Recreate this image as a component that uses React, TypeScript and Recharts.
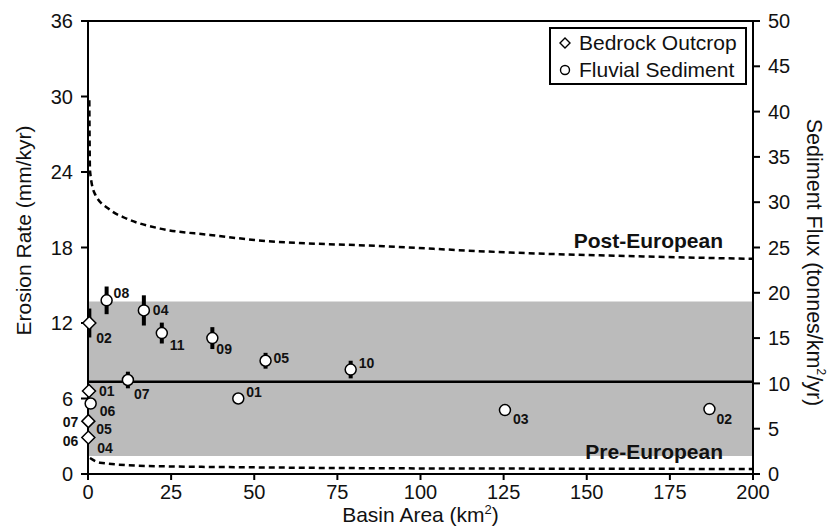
import React from 'react';
import {
  ComposedChart, Scatter, Line, XAxis, YAxis, ReferenceArea, ReferenceLine,
  ReferenceDot, ErrorBar, Legend, Label,
} from 'recharts';

const FONT = "'Liberation Sans', Arial, Helvetica, sans-serif";

// bedrock outcrops (all sit at ~0 km2)
const bedrockIds = ['02', '01', '05', '04'];
const bedrockPairIds = ['', '', '07', '06'];
const bedrockArea = [0.4, 0.3, 0.1, 0.1];
const bedrockRate = [12.0, 6.6, 4.2, 2.9];
const bedrockErr = [1.15, 0, 0, 0];

// fluvial sediment samples
const fluvialIds = ['08', '04', '11', '09', '07', '05', '10', '01', '03', '02', '06'];
const fluvialArea = [5.6, 16.8, 22.2, 37.4, 12.0, 53.4, 79.0, 45.2, 125.4, 186.9, 0.8];
const fluvialRate = [13.8, 13.0, 11.2, 10.8, 7.47, 9.0, 8.3, 6.0, 5.08, 5.16, 5.6];
const fluvialErr = [1.1, 1.2, 0.83, 0.87, 0.66, 0.63, 0.7, 0, 0, 0, 0];

// modelled curves
const postEuroArea = [0.4, 0.6, 2, 6.6, 11.6, 21.7, 36.7, 50, 89, 127, 165, 200];
const postEuroRate = [29.7, 24.1, 22.3, 21.0, 20.3, 19.5, 19.0, 18.6, 18.1, 17.6, 17.3, 17.1];
const preEuroArea = [0.6, 3.6, 17.6, 50, 94, 150, 200];
const preEuroRate = [1.27, 0.9, 0.64, 0.53, 0.45, 0.42, 0.4];

const meanRate = 7.33;
const bandLow = 1.43;
const bandHigh = 13.7;

const xTicks = [0, 25, 50, 75, 100, 125, 150, 175, 200];
const rateTicks = [0, 6, 12, 18, 24, 30, 36];
const fluxTicks = [0, 5, 10, 15, 20, 25, 30, 35, 40, 45, 50];

// label nudges (px) from the marker centre
const fluvialNudge: Record<string, [number, number]> = {
  '08': [7, -2], '04': [9, 5], '11': [8, 17], '09': [4, 16], '07': [6, 19], '05': [8, 2],
  '10': [8, -2], '01': [8, -2], '03': [8, 14], '02': [7, 15], '06': [9, 12],
};
const bedrockNudge: Record<string, [number, number]> = {
  '02': [7, 20], '01': [10, 5], '05': [8, 13], '04': [9, 15],
};
const pairNudge: Record<string, [number, number]> = { '07': [-10, 6], '06': [-10, 8] };

const bedrockData = bedrockIds.map((id, i) => ({
  id, pair: bedrockPairIds[i], x: bedrockArea[i], y: bedrockRate[i], err: bedrockErr[i],
}));
const fluvialData = fluvialIds.map((id, i) => ({
  id, x: fluvialArea[i], y: fluvialRate[i], err: fluvialErr[i],
}));
const postEuroData = postEuroArea.map((x, i) => ({ x, y: postEuroRate[i] }));
const preEuroData = preEuroArea.map((x, i) => ({ x, y: preEuroRate[i] }));

const labelStyle = { fontSize: 14, fontWeight: 700, fill: '#111', fontFamily: FONT };
const axisStyle = { stroke: '#000', strokeWidth: 2 };
const tickStyle = { fill: '#111', fontSize: 20, fontFamily: FONT };

const FluvialMark = (props: any) => {
  const { cx, cy, payload } = props;
  const [dx, dy] = fluvialNudge[payload.id] ?? [8, 5];
  return (
    <g>
      <circle cx={cx} cy={cy} r={5.5} fill="#fff" stroke="#000" strokeWidth={1.5} />
      <text x={cx + dx} y={cy + dy} {...labelStyle}>{payload.id}</text>
    </g>
  );
};

const BedrockMark = (props: any) => {
  const { cx, cy, payload } = props;
  const s = 6.5;
  const [dx, dy] = bedrockNudge[payload.id] ?? [8, 5];
  const pn = pairNudge[payload.pair];
  return (
    <g>
      <path d={`M${cx} ${cy - s}L${cx + s} ${cy}L${cx} ${cy + s}L${cx - s} ${cy}Z`}
        fill="#fff" stroke="#000" strokeWidth={1.5} />
      <text x={cx + dx} y={cy + dy} {...labelStyle}>{payload.id}</text>
      {pn && <text x={cx + pn[0]} y={cy + pn[1]} textAnchor="end" {...labelStyle}>{payload.pair}</text>}
    </g>
  );
};

const EndLabel = (text: string) => (props: any) => (
  <text x={props.cx} y={props.cy} textAnchor="end" fontSize={21} fontWeight={700}
    fontFamily={FONT} fill="#111">{text}</text>
);

const LegendBox = () => (
  <div style={{
    border: '2px solid #000', background: '#fff', padding: '0 6px 0 8px', width: 198, height: 58,
    boxSizing: 'border-box', fontFamily: FONT, fontSize: 21, lineHeight: '27px', color: '#111',
  }}>
    <div style={{ display: 'flex', alignItems: 'center' }}>
      <svg width={12} height={12}><path d="M6 1L11 6L6 11L1 6Z" fill="none" stroke="#000" strokeWidth={1.4} /></svg>
      <span style={{ marginLeft: 8 }}>Bedrock Outcrop</span>
    </div>
    <div style={{ display: 'flex', alignItems: 'center' }}>
      <svg width={12} height={12}><circle cx={6} cy={6} r={4.5} fill="none" stroke="#000" strokeWidth={1.4} /></svg>
      <span style={{ marginLeft: 8 }}>Fluvial Sediment</span>
    </div>
  </div>
);

export default function App() {
  return (
    <div>
      <style>{'body{margin:0}'}</style>
      <ComposedChart width={830} height={527} margin={{ top: 21, right: 0, bottom: 0, left: 0 }}>
        <ReferenceArea yAxisId="rate" x1={0} x2={200} y1={bandLow} y2={bandHigh}
          fill="#bbbbbb" fillOpacity={1} stroke="none" />
        <XAxis type="number" dataKey="x" domain={[0, 200]} ticks={xTicks} interval={0} height={53}
          axisLine={axisStyle} tickLine={axisStyle} tickSize={6} tickMargin={5} tick={tickStyle}>
          <Label content={({ viewBox }: any) => (
            <text x={viewBox.x + viewBox.width / 2} y={viewBox.y + 48} textAnchor="middle"
              fontSize={21} fontFamily={FONT} fill="#111">
              Basin Area (km<tspan dy={-8} fontSize={13}>2</tspan><tspan dy={8}>)</tspan>
            </text>
          )} />
        </XAxis>
        <YAxis yAxisId="rate" type="number" dataKey="y" domain={[0, 36]} ticks={rateTicks} interval={0}
          width={88} axisLine={axisStyle} tickLine={axisStyle} tickSize={7} tickMargin={8} tick={tickStyle}>
          <Label content={({ viewBox }: any) => {
            const x = viewBox.x + 23;
            const y = viewBox.y + viewBox.height / 2 - 17;
            return (
              <text x={x} y={y} transform={`rotate(-90, ${x}, ${y})`} textAnchor="middle"
                dominantBaseline="central" fontSize={21} fontFamily={FONT} fill="#111">
                Erosion Rate (mm/kyr)
              </text>
            );
          }} />
        </YAxis>
        <YAxis yAxisId="flux" orientation="right" type="number" domain={[0, 50]} ticks={fluxTicks}
          interval={0} allowDataOverflow width={77} axisLine={axisStyle} tickLine={axisStyle}
          tickSize={7} tickMargin={8} tick={tickStyle}>
          <Label content={({ viewBox }: any) => {
            const x = viewBox.x + 61;
            const y = viewBox.y + viewBox.height / 2 + 15;
            return (
              <text x={x} y={y} transform={`rotate(90, ${x}, ${y})`} textAnchor="middle"
                dominantBaseline="central" fontSize={21.5} fontFamily={FONT} fill="#111">
                Sediment Flux (tonnes/km<tspan dy={-7} fontSize={12}>2</tspan><tspan dy={7}>/yr)</tspan>
              </text>
            );
          }} />
        </YAxis>
        <ReferenceLine yAxisId="rate" y={meanRate} stroke="#000" strokeWidth={2.5} />
        <ReferenceLine yAxisId="rate" y={36} stroke="#000" strokeWidth={2} />
        <Line yAxisId="rate" data={postEuroData} dataKey="y" type="monotone" stroke="#000"
          strokeWidth={2.5} strokeDasharray="6 4" dot={false} legendType="none" isAnimationActive={false} />
        <Line yAxisId="rate" data={preEuroData} dataKey="y" type="monotone" stroke="#000"
          strokeWidth={2.5} strokeDasharray="6 4" dot={false} legendType="none" isAnimationActive={false} />
        <Scatter yAxisId="rate" data={fluvialData.filter(d => d.err > 0)} dataKey="y"
          shape={() => <g />} legendType="none" isAnimationActive={false}>
          <ErrorBar dataKey="err" direction="y" width={0} strokeWidth={4} stroke="#000" />
        </Scatter>
        <Scatter yAxisId="rate" data={bedrockData.filter(d => d.err > 0)} dataKey="y"
          shape={() => <g />} legendType="none" isAnimationActive={false}>
          <ErrorBar dataKey="err" direction="y" width={0} strokeWidth={4} stroke="#000" />
        </Scatter>
        <Scatter yAxisId="rate" name="Fluvial Sediment" data={fluvialData} dataKey="y"
          shape={FluvialMark} isAnimationActive={false} />
        <Scatter yAxisId="rate" name="Bedrock Outcrop" data={bedrockData} dataKey="y"
          shape={BedrockMark} isAnimationActive={false} />
        <ReferenceDot yAxisId="rate" x={191} y={17.95} shape={EndLabel('Post-European')} />
        <ReferenceDot yAxisId="rate" x={191} y={1.19} shape={EndLabel('Pre-European')} />
        <Legend layout="vertical" align="center" verticalAlign="middle"
          wrapperStyle={{ top: 27, left: 549, width: 198, height: 58 }} content={() => <LegendBox />} />
      </ComposedChart>
    </div>
  );
}
